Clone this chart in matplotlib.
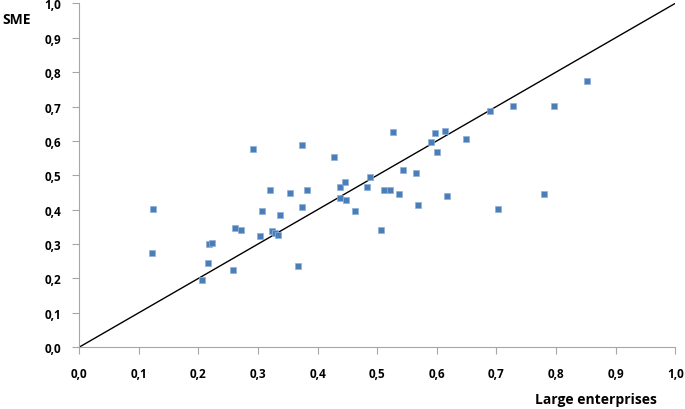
import matplotlib
matplotlib.use("Agg")
import matplotlib.pyplot as plt

# large enterprises (x) vs SME (y)
large = [0.124, 0.122, 0.206, 0.216, 0.218, 0.223, 0.258, 0.262, 0.272, 0.292,
         0.304, 0.307, 0.320, 0.324, 0.329, 0.334, 0.337, 0.354, 0.367, 0.374,
         0.374, 0.382, 0.428, 0.438, 0.438, 0.446, 0.448, 0.463, 0.483, 0.488,
         0.506, 0.511, 0.521, 0.527, 0.537, 0.543, 0.565, 0.568, 0.590, 0.597,
         0.600, 0.614, 0.617, 0.649, 0.689, 0.703, 0.728, 0.780, 0.797, 0.852]
sme = [0.402, 0.274, 0.196, 0.245, 0.300, 0.303, 0.225, 0.347, 0.341, 0.576,
       0.324, 0.396, 0.457, 0.338, 0.332, 0.327, 0.385, 0.448, 0.236, 0.588,
       0.408, 0.457, 0.553, 0.466, 0.434, 0.481, 0.428, 0.396, 0.466, 0.495,
       0.341, 0.457, 0.457, 0.626, 0.446, 0.515, 0.506, 0.413, 0.597, 0.623,
       0.568, 0.629, 0.440, 0.605, 0.687, 0.402, 0.701, 0.446, 0.701, 0.774]
ticks = [i / 10 for i in range(11)]
tick_labels = [f"{t:.1f}".replace(".", ",") for t in ticks]

plt.rcParams['font.family'] = ['Open Sans', 'DejaVu Sans']

fig = plt.figure(figsize=(6.85, 4.10), dpi=100)
ax = fig.add_axes([0.1153, 0.1505, 0.8706, 0.839])

ax.plot([0, 1], [0, 1], color="black", lw=1.0, zorder=2)
ax.scatter(large, sme, marker="s", s=22, color="#4a7ebb", edgecolors="#8fb0d8",
           linewidths=0.5, zorder=3)

ax.set_xlim(0, 1)
ax.set_ylim(0, 1)
ax.set_xticks(ticks)
ax.set_yticks(ticks)
ax.set_xticklabels(tick_labels, fontweight="bold", fontsize=8.5)
ax.set_yticklabels(tick_labels, fontweight="bold", fontsize=8.5)
ax.tick_params(axis="both", direction="out", length=5, width=0.8, color="#a6a6a6")
ax.tick_params(axis="x", pad=9)
ax.tick_params(axis="y", pad=8)
for s in ["top", "right"]:
    ax.spines[s].set_visible(False)
for s in ["left", "bottom"]:
    ax.spines[s].set_color("#a6a6a6")
    ax.spines[s].set_linewidth(0.8)

fig.text(2 / 685, 1 - 20 / 410, "SME", fontweight="bold", fontsize=10, va="center", ha="left")
fig.text(657 / 685, 1 - 400 / 410, "Large enterprises", fontweight="bold", fontsize=10,
         va="center", ha="right")

fig.savefig("out.png", dpi=100)
